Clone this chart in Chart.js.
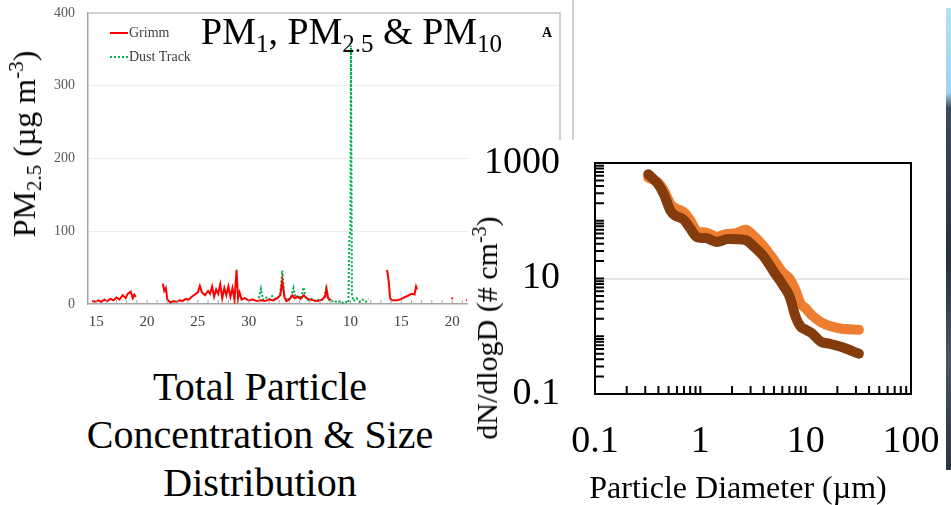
<!DOCTYPE html>
<html>
<head>
<meta charset="utf-8">
<script src="https://cdn.jsdelivr.net/npm/chart.js@4.4.1/dist/chart.umd.min.js"></script>
<style>
    body {
        margin: 0;
        width: 951px;
        height: 505px;
        background: #fff;
        position: relative;
        overflow: hidden;
        font-family: "Liberation Serif", "Times New Roman", serif;
    }
    .abs { position: absolute; white-space: nowrap; }
    .vtitle { transform: translate(-50%, -50%) rotate(-90deg); line-height: 1; }
    .sub { position: relative; top: 8px; font-size: 25px; }
    .legend-row { position: absolute; font-size: 14px; color: #404040; line-height: 14px; }
    .legend-row span.swatch { position: absolute; left: -19px; top: 6px; width: 18px; height: 0; }
    #pmChart { position: absolute; left: 0; top: 0; }
    #sizePanel { position: absolute; left: 468px; top: 140px; width: 478px; height: 365px; background: #fff; }
    #sizeChart { position: absolute; left: 0; top: 0; }
</style>
</head>
<body>

<canvas id="pmChart" width="575" height="335"></canvas>

<!-- legend of the time series -->
<div class="legend-row" style="left:129px; top:26px;"><span class="swatch" style="border-top:2px solid #ff0000;"></span>Grimm</div>
<div class="legend-row" style="left:129px; top:50px;"><span class="swatch" style="border-top:2px dotted #00b050;"></span>Dust Track</div>

<div class="abs" style="left:201px; top:12px; font-size:38px; line-height:38px;">PM<span class="sub">1</span>, PM<span class="sub">2.5</span> &amp; PM<span class="sub">10</span></div>
<div class="abs" style="left:542px; top:25px; font-size:14px; font-weight:bold;">A</div>

<div class="abs vtitle" style="left:24px; top:144px; font-size:32px;">PM<span style="font-size:21px; position:relative; top:6px;">2.5</span> (µg m<span style="font-size:21px; position:relative; top:-12px;">-3</span>)</div>

<!-- thin separator of the slide -->
<div class="abs" style="left:572px; top:0; width:2px; height:140px; background:#d0d0d0;"></div>

<!-- photo edge on the right of the slide -->
<div class="abs" style="left:946px; top:8px; width:5px; height:462px; background:linear-gradient(#b5e0f5 0px, #9fd3ef 85px, #3a4a5e 100px, #26303f 250px, #4a5566 350px, #2a3342 462px);"></div>

<div class="abs" style="left:60px; top:363px; width:400px; text-align:center; font-size:40px; line-height:48px;">Total Particle<br>Concentration &amp; Size<br>Distribution</div>

<div id="sizePanel">
    <canvas id="sizeChart" width="478" height="365"></canvas>
</div>

<div class="abs vtitle" style="left:487px; top:328px; font-size:30px;">dN/dlogD (# cm<span style="font-size:20px; position:relative; top:-11px;">-3</span>)</div>
<div class="abs" style="left:738px; top:487px; transform:translate(-50%, -50%); font-size:32px; line-height:1;">Particle Diameter (µm)</div>

<script>
// PM2.5 time series, x = days after the 15th (30-day month)
const grimmDays = [
    -0.4, -0.1, 0.2, 0.5, 0.8, 1.1, 1.4, 1.7, 2.0, 2.3, 2.6, 2.9, 3.1, 3.4, 3.6, 3.75, 3.9,
    5.0,
    6.55, 6.7, 6.85, 7.0, 7.3, 7.6, 7.9, 8.2, 8.5, 8.8, 9.1, 9.4, 9.7, 10.0, 10.2, 10.4, 10.7,
    11.0, 11.2, 11.4, 11.6, 11.8, 12.0, 12.2, 12.4, 12.6, 12.8, 13.0, 13.2, 13.4, 13.6, 13.8,
    13.95, 14.1, 14.3, 14.6, 15.0, 15.4, 15.8, 16.2, 16.6, 17.0, 17.4, 17.8, 18.1, 18.3, 18.5,
    18.7, 19.0, 19.3, 19.5, 19.8, 20.1, 20.4, 20.7, 21.0, 21.4, 21.8, 22.2, 22.5, 22.65, 22.8, 23.1,
    25.0,
    28.6, 28.75, 28.9, 29.05, 29.6, 30.0, 30.3, 30.6, 31.0, 31.3, 31.45, 31.55,
    33.0,
    34.95, 35.05,
    35.7,
    36.35, 36.45
];
const grimmValues = [
    4, 3, 5, 3, 6, 4, 7, 5, 9, 6, 12, 8, 14, 17, 8, 13, 10,
    null,
    28, 18, 22, 6, 2, 4, 3, 5, 4, 7, 6, 10, 13, 16, 25, 16, 12,
    18, 14, 24, 10, 20, 14, 27, 8, 22, 12, 24, 10, 22, 6, 47,
    8, 16, 6, 8, 5, 6, 4, 5, 4, 6, 5, 8, 12, 32, 10,
    4, 6, 12, 8, 10, 7, 12, 8, 6, 5, 4, 6, 10, 21, 8, 5,
    null,
    47, 33, 8, 5, 5, 7, 9, 11, 14, 13, 24, 20,
    null,
    9, 7,
    null,
    5, 5
];

const dustDays = [
    16.0, 16.2, 16.4, 16.7, 17.0, 17.3, 17.6, 17.9, 18.1, 18.3, 18.5, 18.7, 19.0, 19.2, 19.4,
    19.6, 19.9, 20.1, 20.4, 20.6, 20.9, 21.2, 21.5, 21.8, 22.1, 22.4, 22.6, 22.8, 23.1, 23.4,
    23.7, 24.0, 24.3, 24.6, 24.8, 24.9, 25.0, 25.05, 25.15, 25.3, 25.6, 25.9, 26.2, 26.5, 26.8
];
const dustValues = [
    8, 21, 6, 9, 6, 11, 7, 9, 14, 46, 12, 5, 8, 11, 22,
    9, 12, 7, 23, 8, 5, 7, 4, 6, 5, 8, 21, 7, 3, 5,
    2, 4, 1, 3, 2, 95, 100, 355, 12, 4, 8, 3, 6, 3, 7
];

const dayTicks = [0, 5, 10, 15, 20, 25, 30, 35];
const dayLabels = ['15', '20', '25', '30', '5', '10', '15', '20'];
const pmTicks = [0, 100, 200, 300, 400];

// size distribution
const diameters = [0.32, 0.39, 0.45, 0.52, 0.58, 0.69, 0.8, 0.93, 1.15, 1.43, 1.78, 2.2, 2.7,
    3.2, 4.0, 5.0, 6.0, 7.0, 8.0, 9.0, 10, 11.5, 14, 17, 22, 32];
const orangeCounts = [560, 470, 335, 195, 165, 143, 103, 66, 62, 53, 59, 61, 70,
    55, 36, 21, 13, 10, 6.3, 3.6, 3.05, 2.3, 1.75, 1.5, 1.35, 1.3];
const brownCounts = [640, 450, 290, 150, 122, 106, 74, 52, 50, 43, 48, 48, 46,
    36, 24, 13, 8, 5, 2.2, 1.45, 1.3, 1.12, 0.8, 0.74, 0.65, 0.5];
const diameterTicks = [0.1, 1, 10, 100];
const countTicks = [0.1, 10, 1000];

const serif = 'Liberation Serif';

function toPoints(xs, ys) {
    return xs.map((x, i) => ({ x: x, y: ys[i] }));
}

// log minor ticks: 1..9 times each decade
function logTicks(from, to) {
    const out = [];
    for (let e = from; e < to; e++) {
        for (let m = 1; m <= 9; m++) out.push(m * Math.pow(10, e));
    }
    out.push(Math.pow(10, to));
    return out;
}

// fixed axis size, and no extra room for the end labels
function fixSize(prop, size) {
    return s => {
        s[prop] = size;
        s.paddingTop = s.paddingBottom = s.paddingLeft = s.paddingRight = 0;
    };
}

// draws tick marks pointing into the plot, plus the top/right frame
const innerTicks = {
    id: 'innerTicks',
    afterDraw(chart, args, opts) {
        const ctx = chart.ctx;
        const a = chart.chartArea;
        ctx.save();
        ctx.strokeStyle = opts.color;
        ctx.lineWidth = opts.width;
        ctx.beginPath();
        (opts.xValues || []).forEach(v => {
            const px = chart.scales.x.getPixelForValue(v);
            if (px < a.left || px > a.right) return;
            ctx.moveTo(px, a.bottom);
            ctx.lineTo(px, a.bottom - opts.xLength);
        });
        (opts.yValues || []).forEach(v => {
            const py = chart.scales.y.getPixelForValue(v);
            if (py < a.top - 1 || py > a.bottom) return;
            ctx.moveTo(a.left, py);
            ctx.lineTo(a.left + opts.yLength, py);
        });
        ctx.stroke();

        ctx.strokeStyle = opts.frameColor;
        ctx.lineWidth = opts.frameWidth;
        ctx.beginPath();
        ctx.moveTo(a.left, a.top);
        ctx.lineTo(a.right, a.top);
        ctx.lineTo(a.right, a.bottom);
        ctx.stroke();
        ctx.restore();
    }
};

const dailyTicks = [];
for (let d = 0; d <= 44; d++) dailyTicks.push(d);

new Chart(document.getElementById('pmChart'), {
    type: 'line',
    data: {
        datasets: [
            {
                label: 'Grimm',
                data: toPoints(grimmDays, grimmValues),
                borderColor: '#ff0000',
                borderWidth: 2,
                pointRadius: 0,
                spanGaps: false,
                tension: 0
            },
            {
                label: 'Dust Track',
                data: toPoints(dustDays, dustValues),
                borderColor: '#00b050',
                borderWidth: 2,
                borderDash: [2, 2],
                pointRadius: 0,
                tension: 0
            }
        ]
    },
    options: {
        responsive: false,
        animation: false,
        layout: { padding: { top: 13, right: 15, left: 0, bottom: 0 } },
        plugins: {
            legend: { display: false },
            tooltip: { enabled: false },
            innerTicks: {
                color: '#a6a6a6', width: 1,
                xValues: dailyTicks, xLength: 4,
                yValues: [], yLength: 0,
                frameColor: '#c4c4c4', frameWidth: 1.5
            }
        },
        scales: {
            x: {
                type: 'linear',
                min: -0.8,
                max: 45.6,
                afterBuildTicks: s => { s.ticks = dayTicks.map(v => ({ value: v })); },
                afterFit: fixSize('height', 31),
                ticks: {
                    callback: v => dayLabels[dayTicks.indexOf(v)],
                    font: { family: serif, size: 15 },
                    color: '#404040',
                    padding: 9,
                    maxRotation: 0,
                    autoSkip: false
                },
                grid: { drawOnChartArea: false, drawTicks: false },
                border: { color: '#a6a6a6', width: 1.5 }
            },
            y: {
                min: 0,
                max: 400,
                afterBuildTicks: s => { s.ticks = pmTicks.map(v => ({ value: v })); },
                afterFit: fixSize('width', 88),
                ticks: {
                    font: { family: serif, size: 14 },
                    color: '#595959',
                    padding: 13
                },
                grid: {
                    color: c => (c.tick && c.tick.value > 0 && c.tick.value < 400) ? '#ededed' : 'rgba(0,0,0,0)',
                    drawTicks: false
                },
                border: { color: '#a6a6a6', width: 1.5 }
            }
        }
    },
    plugins: [innerTicks]
});

new Chart(document.getElementById('sizeChart'), {
    type: 'line',
    data: {
        datasets: [
            {
                label: 'dark',
                data: toPoints(diameters, brownCounts),
                borderColor: '#843c0c',
                borderWidth: 10,
                borderCapStyle: 'round',
                borderJoinStyle: 'round',
                pointRadius: 0,
                tension: 0.3
            },
            {
                label: 'light',
                data: toPoints(diameters, orangeCounts),
                borderColor: '#ed7d31',
                borderWidth: 10,
                borderCapStyle: 'round',
                borderJoinStyle: 'round',
                pointRadius: 0,
                tension: 0.3
            }
        ]
    },
    options: {
        responsive: false,
        animation: false,
        layout: { padding: { top: 23, right: 35, left: 0, bottom: 0 } },
        plugins: {
            legend: { display: false },
            tooltip: { enabled: false },
            innerTicks: {
                color: '#000', width: 2,
                xValues: logTicks(-1, 2), xLength: 8,
                yValues: logTicks(-1, 3), yLength: 9,
                frameColor: '#000', frameWidth: 2
            }
        },
        scales: {
            x: {
                type: 'logarithmic',
                min: 0.1,
                max: 100,
                afterBuildTicks: s => { s.ticks = diameterTicks.map(v => ({ value: v })); },
                afterFit: fixSize('height', 111),
                ticks: {
                    callback: v => String(v),
                    font: { family: serif, size: 38 },
                    color: '#000',
                    padding: 25,
                    maxRotation: 0,
                    autoSkip: false
                },
                grid: { drawOnChartArea: false, drawTicks: false },
                border: { color: '#000', width: 2 }
            },
            y: {
                type: 'logarithmic',
                min: 0.1,
                max: 1000,
                afterBuildTicks: s => { s.ticks = countTicks.map(v => ({ value: v })); },
                afterFit: fixSize('width', 127),
                ticks: {
                    callback: v => String(v),
                    font: { family: serif, size: 38 },
                    color: '#000',
                    padding: 35
                },
                grid: {
                    color: c => (c.tick && c.tick.value === 10) ? '#e6e6e6' : 'rgba(0,0,0,0)',
                    lineWidth: 2,
                    drawTicks: false
                },
                border: { color: '#000', width: 2 }
            }
        }
    },
    plugins: [innerTicks]
});
</script>
</body>
</html>
